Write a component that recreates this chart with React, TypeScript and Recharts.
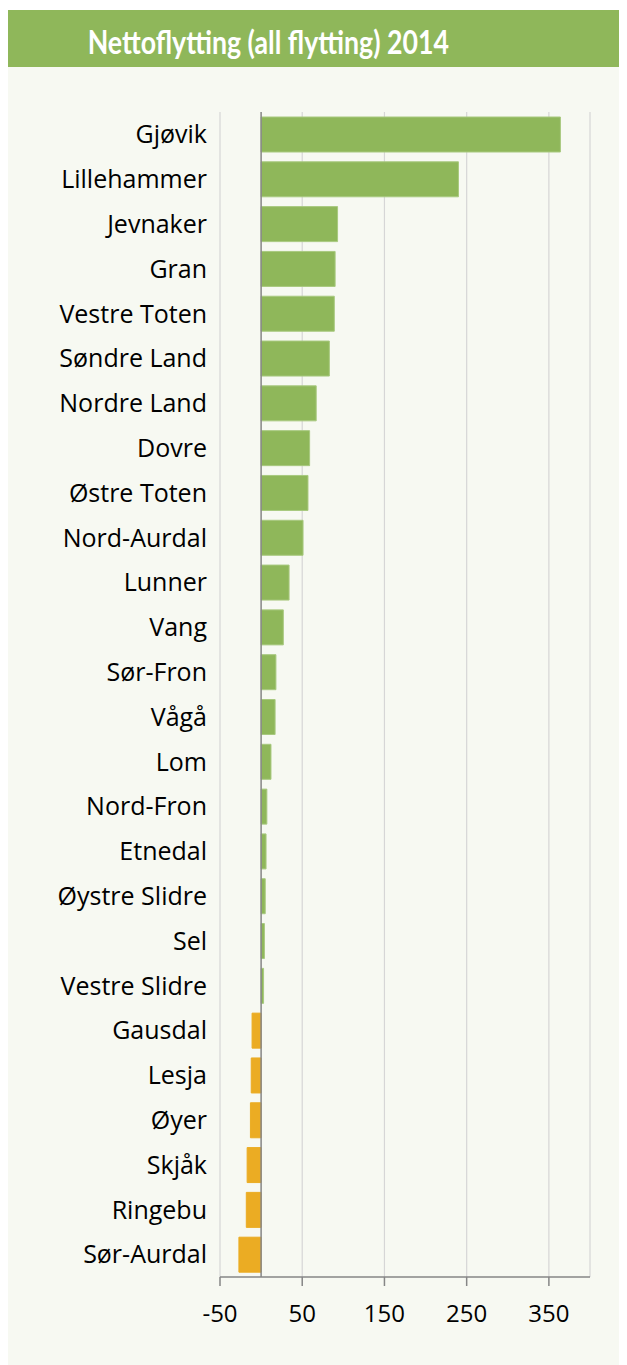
import React from 'react';
import { BarChart, Bar, XAxis, YAxis, CartesianGrid, ReferenceLine, Cell } from 'recharts';

const categories = [
  'Gjøvik', 'Lillehammer', 'Jevnaker', 'Gran', 'Vestre Toten', 'Søndre Land', 'Nordre Land',
  'Dovre', 'Østre Toten', 'Nord-Aurdal', 'Lunner', 'Vang', 'Sør-Fron', 'Vågå', 'Lom',
  'Nord-Fron', 'Etnedal', 'Øystre Slidre', 'Sel', 'Vestre Slidre', 'Gausdal', 'Lesja',
  'Øyer', 'Skjåk', 'Ringebu', 'Sør-Aurdal',
];
const values = [
  364, 240, 93, 90, 89, 83, 67, 59, 57, 51, 34, 27, 18, 17, 12, 7, 6, 5, 4, 3,
  -11, -12, -13, -17, -18, -27,
];
const xTicks = [-50, 50, 150, 250, 350];
const xDomain = [-50, 400];
const title = 'Nettoflytting (all flytting) 2014';

const GREEN = '#8fb75a';
const GREEN_EDGE = '#a8c97f';
const ORANGE = '#ebac23';
const AXIS = '#868686';
const GRID = '#d6d6d6';
const BG = '#f7f9f2';

const data = categories.map((name, i) => ({ name, value: values[i] }));

export default function App() {
  return (
    <div style={{ width: 619, height: 1355, marginTop: 2, background: BG, fontFamily: 'Open Sans' }}>
      <div
        style={{
          height: 57,
          background: GREEN,
          color: '#ffffff',
          fontFamily: 'Lato',
          fontWeight: 700,
          fontSize: 32,
          lineHeight: '57px',
          textAlign: 'center',
          paddingRight: 99,
          boxSizing: 'border-box',
          paddingTop: 3,
          whiteSpace: 'nowrap',
        }}
      >
        <span style={{ display: 'inline-block', transform: 'scaleX(0.835)', transformOrigin: 'center' }}>
          {title}
        </span>
      </div>
      <BarChart
        width={619}
        height={1290}
        data={data}
        layout="vertical"
        margin={{ top: 45, right: 37, bottom: 20, left: 0 }}
        barSize={35}
      >
        <CartesianGrid horizontal={false} vertical={true} stroke={GRID} strokeWidth={1.2} />
        <XAxis
          type="number"
          domain={xDomain}
          ticks={xTicks}
          allowDataOverflow
          height={60}
          axisLine={{ stroke: AXIS, strokeWidth: 1.5 }}
          tickLine={{ stroke: AXIS, strokeWidth: 1.5 }}
          tickSize={9}
          tickMargin={19}
          tick={{ fill: '#000000', fontSize: 24, fontFamily: 'Open Sans' }}
        />
        <YAxis
          type="category"
          dataKey="name"
          width={212}
          axisLine={false}
          tickLine={false}
          tickSize={0}
          tickMargin={13}
          interval={0}
          tick={{ fill: '#000000', fontSize: 25, fontFamily: 'Open Sans' }}
        />
        <ReferenceLine x={0} stroke={AXIS} strokeWidth={1.5} />
        <Bar dataKey="value" isAnimationActive={false}>
          {data.map((d, i) => (
            <Cell
              key={i}
              fill={d.value >= 0 ? GREEN : ORANGE}
              stroke={d.value >= 0 ? GREEN_EDGE : ORANGE}
              strokeWidth={1}
            />
          ))}
        </Bar>
      </BarChart>
    </div>
  );
}
